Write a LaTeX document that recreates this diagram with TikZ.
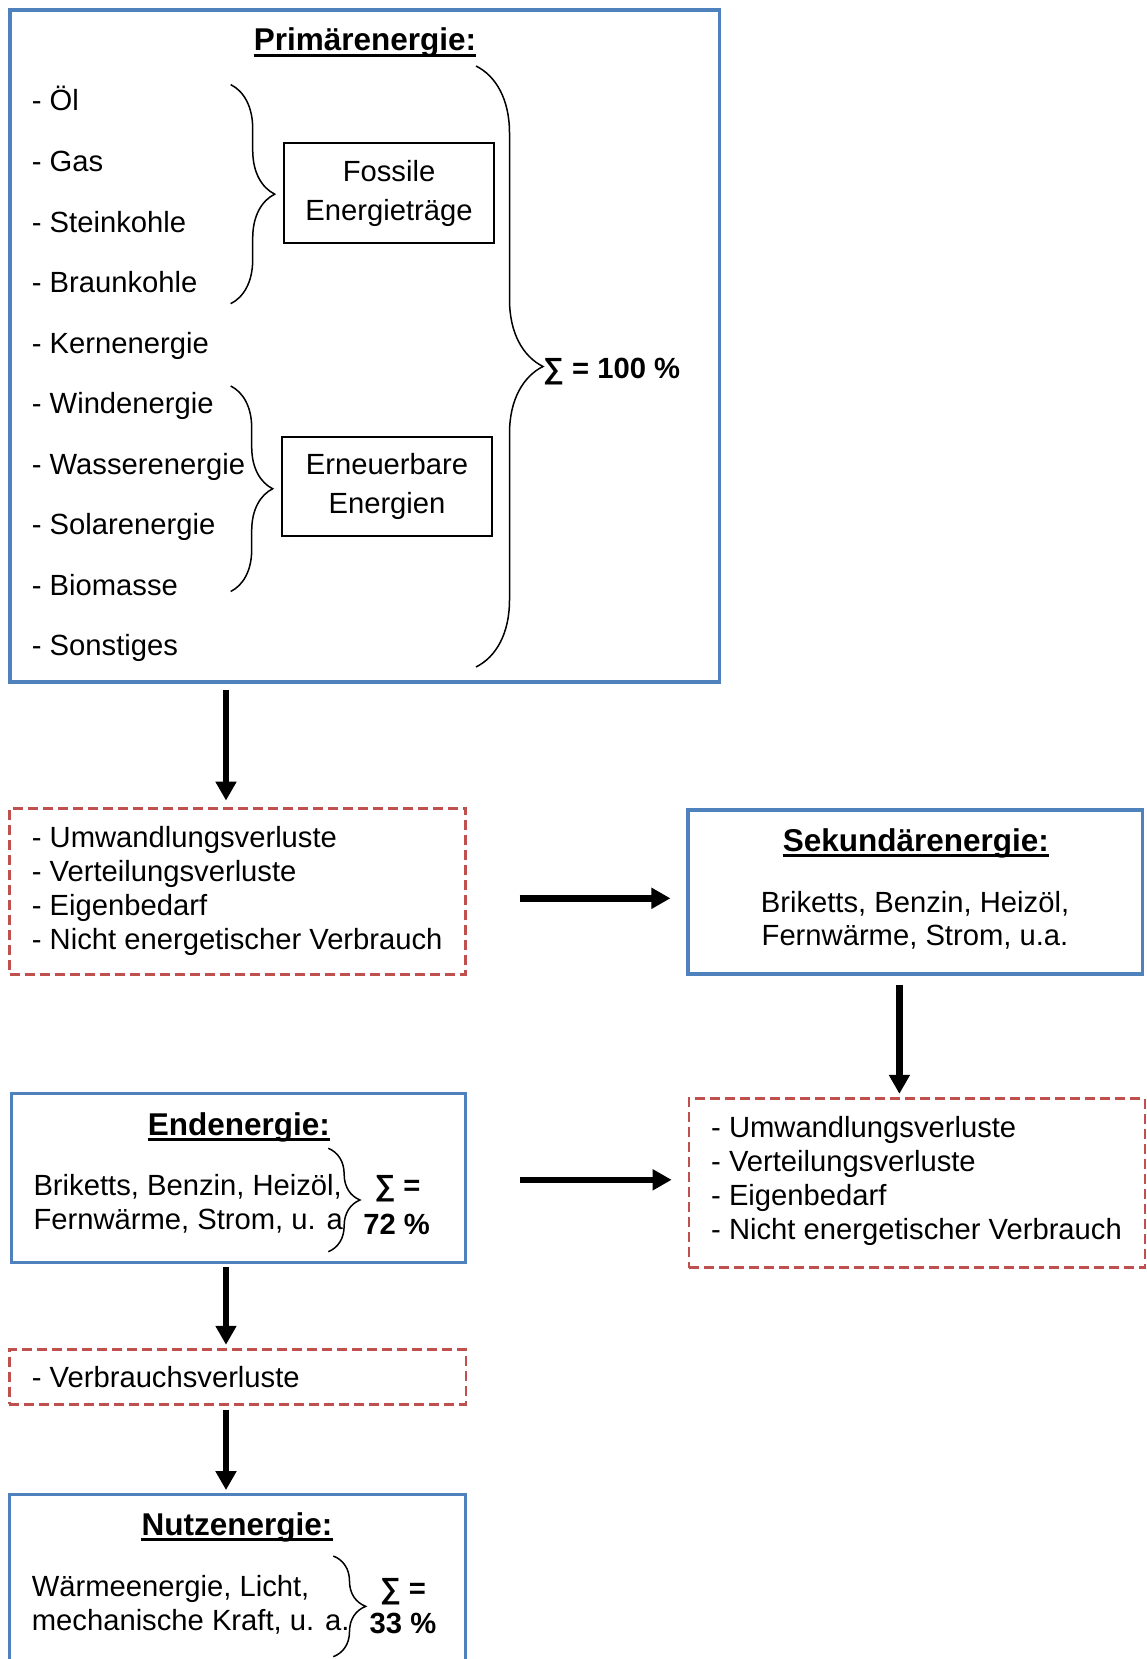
\documentclass[tikz,border=0pt]{standalone}
\usepackage{fontspec}
\setmainfont{Liberation Sans}
\usetikzlibrary{arrows.meta,decorations.pathreplacing}
\definecolor{boxblue}{HTML}{4F81BD}
\definecolor{lossred}{HTML}{C0504D}

\begin{document}
\begin{tikzpicture}[x=1pt,y=-1pt,
  every node/.style={font=\fontsize{29.2}{34}\selectfont,inner sep=0pt},
  main box/.style={draw=boxblue,line width=3.2pt},
  loss box/.style={draw=lossred,line width=2.4pt,dash pattern=on 10pt off 5pt},
  group box/.style={draw,line width=1.6pt,align=center,font=\fontsize{29.2}{39}\selectfont},
  item/.style={anchor=base west},
  title/.style={anchor=base,font=\fontsize{31.5}{38}\selectfont\bfseries},
  underl/.style={line width=3.5pt},
  sum/.style={anchor=base,font=\fontsize{29.2}{34}\selectfont\bfseries},
  flow/.style={line width=6.5pt,-{Triangle[length=19pt,width=20pt]}},
  curly/.style={line width=1.5pt,decorate,decoration={brace,amplitude=#1}}]

  \clip (0,0) rectangle (1147,1659);

  % Primaerenergie
  \node[main box,minimum width=709.5pt,minimum height=672pt] (prim) at (364.75,346) {};
  \node[title] (primT) at (365,51) {Primärenergie:};
  \draw[underl] ([yshift=-4.5pt]primT.base west) -- ([yshift=-4.5pt]primT.base east);

  \node[item] (oel) at (31.7,111) {- Öl};
  \node[item] (gas) at (31.7,171.5) {- Gas};
  \node[item] (stein) at (31.7,232) {- Steinkohle};
  \node[item] (braun) at (31.7,292.5) {- Braunkohle};
  \node[item] (kern) at (31.7,353) {- Kernenergie};
  \node[item] (wind) at (31.7,413.5) {- Windenergie};
  \node[item] (wasser) at (31.7,474) {- Wasserenergie};
  \node[item] (solar) at (31.7,534.5) {- Solarenergie};
  \node[item] (bio) at (31.7,595) {- Biomasse};
  \node[item] (sonst) at (31.7,655.5) {- Sonstiges};

  \node[group box,minimum width=210.5pt,minimum height=100pt] (foss) at (389,193) {Fossile\\Energieträge};
  \node[group box,minimum width=210.5pt,minimum height=99pt] (ern) at (387,486.5) {Erneuerbare\\Energien};

  \draw[curly=44pt] (230.7,84.6) -- (230.7,303.7);
  \draw[curly=42pt] (230.7,386) -- (230.7,591.5);
  \draw[curly=67pt] (476,66) -- (476,667);
  \node[sum,anchor=base west] (sumP) at (543,378.3) {∑ = 100 \%};

  % Verluste 1 und Sekundaerenergie
  \node[loss box,minimum width=456pt,minimum height=166pt] (loss1) at (237.5,891.4) {};
  \node[item] (l1a) at (31.7,847.5) {- Umwandlungsverluste};
  \node[item] (l1b) at (31.7,881.3) {- Verteilungsverluste};
  \node[item] (l1c) at (31.7,915.2) {- Eigenbedarf};
  \node[item] (l1d) at (31.7,949) {- Nicht energetischer Verbrauch};

  \node[main box,minimum width=454.7pt,minimum height=164pt] (sek) at (915.4,892) {};
  \node[title] (sekT) at (915.8,851) {Sekundärenergie:};
  \draw[underl] ([yshift=-4.5pt]sekT.base west) -- ([yshift=-4.5pt]sekT.base east);
  \node[anchor=base] (sekA) at (915,912) {Briketts, Benzin, Heizöl,};
  \node[anchor=base] (sekB) at (915,945.5) {Fernwärme, Strom, u.a.};

  % Verluste 2
  \node[loss box,minimum width=456pt,minimum height=169.3pt] (loss2) at (916.85,1183) {};
  \node[item] (l2a) at (711,1137.4) {- Umwandlungsverluste};
  \node[item] (l2b) at (711,1171.2) {- Verteilungsverluste};
  \node[item] (l2c) at (711,1205.1) {- Eigenbedarf};
  \node[item] (l2d) at (711,1239) {- Nicht energetischer Verbrauch};

  % Endenergie
  \node[main box,minimum width=454.4pt,minimum height=169.4pt] (end) at (238.5,1178) {};
  \node[title] (endT) at (238.8,1135) {Endenergie:};
  \draw[underl] ([yshift=-4.5pt]endT.base west) -- ([yshift=-4.5pt]endT.base east);
  \node[item] (endA) at (33.3,1195) {Briketts, Benzin, Heizöl,};
  \node[item] (endB) at (33.3,1229.5) {Fernwärme, Strom, u. a};
  \draw[curly=31.7pt] (328.3,1148.3) -- (328.3,1251.7);
  \node[sum] (sumEa) at (397.5,1195) {∑ =};
  \node[sum] (sumEb) at (396.7,1234) {72 \%};

  % Verbrauchsverluste
  \node[loss box,minimum width=456.4pt,minimum height=55pt] (loss3) at (237.5,1376.8) {};
  \node[item] (l3a) at (31.7,1387.3) {- Verbrauchsverluste};

  % Nutzenergie
  \node[main box,minimum width=456.4pt,minimum height=220pt] (nutz) at (237.5,1604.3) {};
  \node[title] (nutzT) at (237,1535) {Nutzenergie:};
  \draw[underl] ([yshift=-4.5pt]nutzT.base west) -- ([yshift=-4.5pt]nutzT.base east);
  \node[item] (nutzA) at (31.7,1596.7) {Wärmeenergie, Licht,};
  \node[item] (nutzB) at (31.7,1630) {mechanische Kraft, u. a.};
  \draw[curly=32.4pt] (333.3,1556) -- (333.3,1656.7);
  \node[sum] (sumNa) at (403,1598.3) {∑ =};
  \node[sum] (sumNb) at (403,1633.3) {33 \%};

  % Pfeile
  \coordinate (lx) at (226,0);
  \coordinate (rx) at (899.4,0);
  \coordinate (hy1) at (0,898.3);
  \coordinate (hy2) at (0,1179.8);
  \draw[flow,shorten <=6.3pt,shorten >=6.6pt] (prim.south -| lx) -- (loss1.north -| lx);
  \draw[flow,shorten <=53pt,shorten >=16pt] (loss1.east |- hy1) -- (sek.west |- hy1);
  \draw[flow,shorten <=9pt,shorten >=3.3pt] (sek.south -| rx) -- (loss2.north -| rx);
  \draw[flow,shorten <=53pt,shorten >=16pt] (end.east |- hy2) -- (loss2.west |- hy2);
  \draw[flow,shorten <=3pt,shorten >=3.3pt] (end.south -| lx) -- (loss3.north -| lx);
  \draw[flow,shorten <=4pt,shorten >=2.6pt] (loss3.south -| lx) -- (nutz.north -| lx);
\end{tikzpicture}
\end{document}
